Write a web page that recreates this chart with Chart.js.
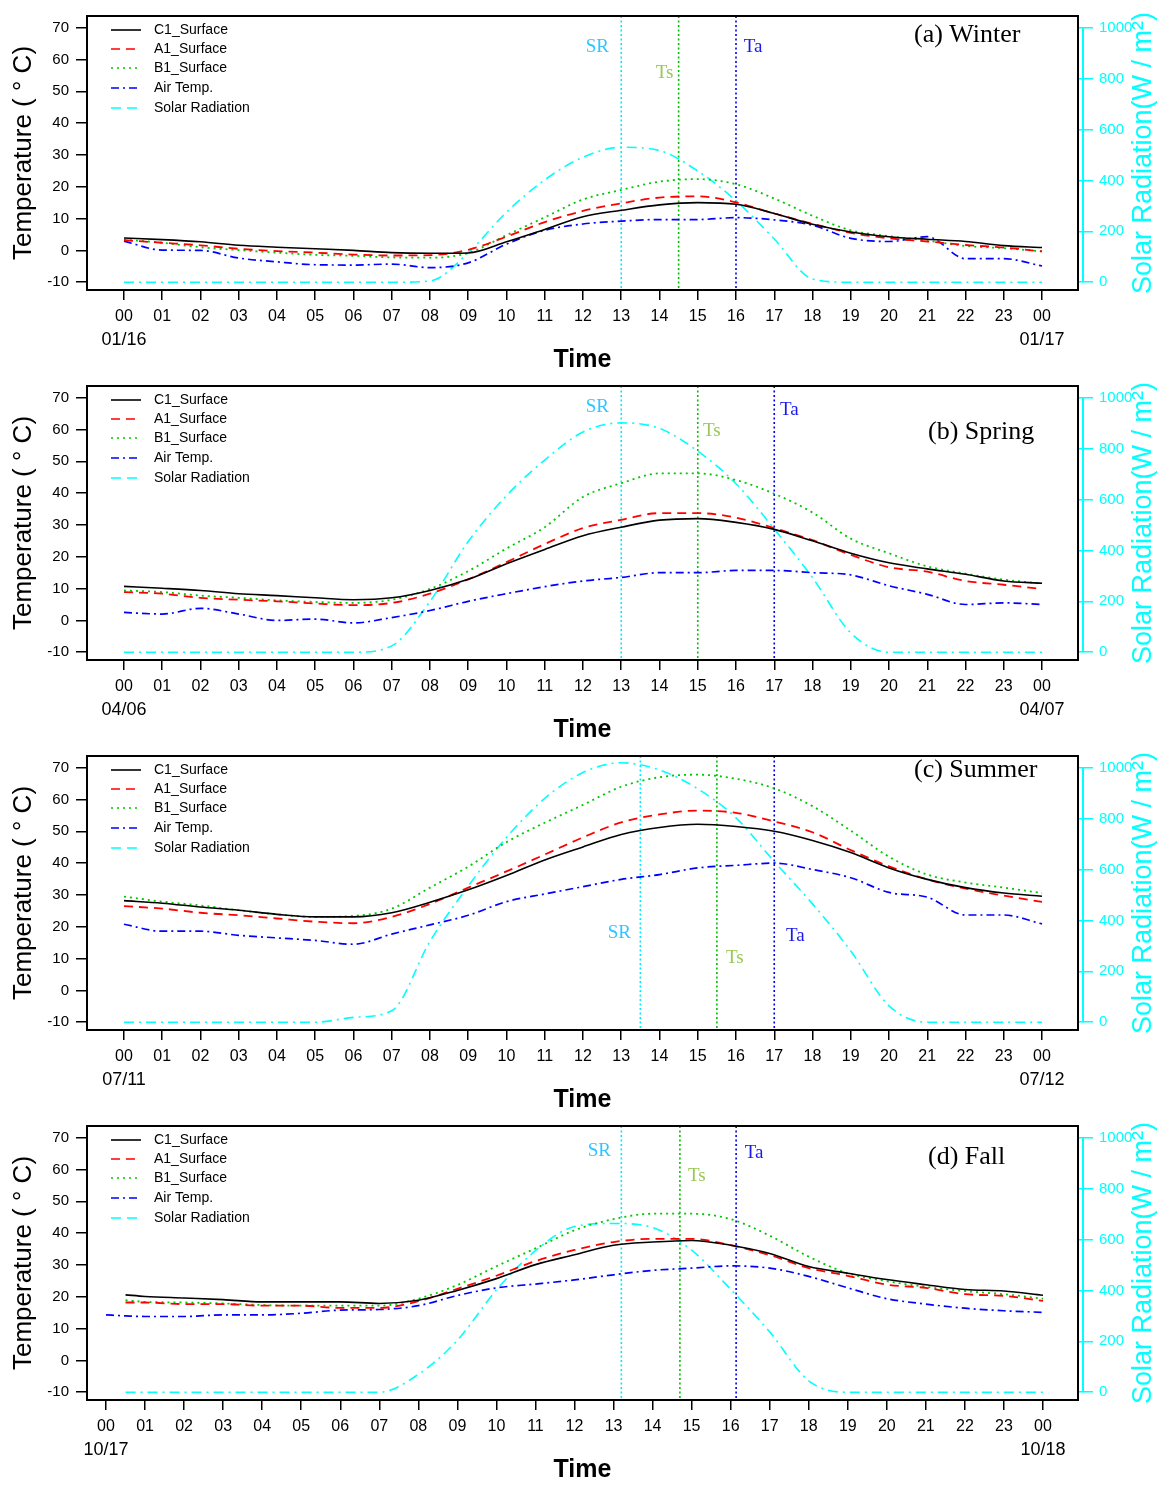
<!DOCTYPE html>
<html>
<head>
<meta charset="utf-8">
<script src="https://cdn.jsdelivr.net/npm/chart.js@4.4.0/dist/chart.umd.min.js"></script>
<style>
  body { margin: 0; background: #fff; }
  canvas { display: block; }
</style>
</head>
<body>
<canvas id="winter" width="1168" height="370"></canvas>
<canvas id="spring" width="1168" height="370"></canvas>
<canvas id="summer" width="1168" height="370"></canvas>
<canvas id="fall" width="1168" height="370"></canvas>
<script>
// ---- data ----
const hours = [0,1,2,3,4,5,6,7,8,9,10,11,12,13,14,15,16,17,18,19,20,21,22,23,24];
const fallHours = [0,0.5,1,2,3,4,5,6,7,8,9,10,11,12,13,14,15,16,17,18,19,20,21,22,23,24];
const hourTicks = [0,1,2,3,4,5,6,7,8,9,10,11,12,13,14,15,16,17,18,19,20,21,22,23,24];
const tempTicks = [-10, 0, 10, 20, 30, 40, 50, 60, 70];
const solarTicks = [0, 200, 400, 600, 800, 1000];
const seriesNames = ['C1_Surface', 'A1_Surface', 'B1_Surface', 'Air Temp.', 'Solar Radiation'];
const markerNames = ['SR', 'Ts', 'Ta'];

// winter 01/16
const winterC1 = [3.9, 3.4, 2.7, 1.6, 1.0, 0.5, 0, -0.7, -0.9, -0.8, 2.7, 6.6, 10.6, 12.6, 14.3, 15.0, 14.5, 11.6, 8.2, 5.8, 4.3, 3.5, 2.8, 1.5, 0.9];
const winterA1 = [3.2, 2.4, 1.6, 0.5, -0.2, -0.7, -1.3, -1.6, -1.5, 0.2, 4.3, 8.9, 12.4, 14.8, 16.6, 17.0, 15.1, 11.6, 8.4, 5.5, 3.8, 2.8, 1.7, 0.9, -0.3];
const winterB1 = [3.4, 2.4, 1.0, 0.1, -0.7, -1.4, -1.7, -2.2, -2.3, -0.8, 4.8, 10.4, 16.0, 19.0, 21.6, 22.4, 20.8, 16.3, 10.9, 6.3, 4.5, 3.1, 1.4, 0.7, -0.3];
const winterAir = [2.9, 0.1, 0, -2.4, -3.6, -4.5, -4.6, -4.3, -5.4, -3.9, 2.0, 6.3, 8.3, 9.2, 9.7, 9.7, 10.3, 9.6, 7.9, 3.8, 2.8, 4.3, -2.6, -2.6, -4.9];
const winterSolar = [0, 0, 0, 0, 0, 0, 0, 0, 5, 116, 275, 402, 491, 530, 517, 437, 320, 170, 13, 0, 0, 0, 0, 0, 0];
const winterMarks = [13, 14.5, 16];

// spring 04/06
const springC1 = [10.7, 10.1, 9.4, 8.4, 7.8, 7.1, 6.5, 7.1, 9.4, 12.9, 17.8, 22.3, 26.6, 29.3, 31.5, 32.0, 30.8, 28.6, 25.0, 21.1, 18.1, 16.2, 14.5, 12.4, 11.7];
const springA1 = [8.9, 8.4, 7.1, 6.5, 6.0, 5.3, 4.8, 5.5, 8.4, 12.9, 18.3, 24.0, 29.0, 31.6, 33.7, 33.7, 32.3, 29.0, 25.2, 20.6, 16.7, 15.3, 12.4, 11.2, 9.9];
const springB1 = [9.4, 8.9, 7.8, 7.1, 6.3, 5.8, 5.5, 6.5, 9.9, 15.5, 22.6, 29.3, 38.8, 43.1, 46.2, 46.2, 44.1, 39.8, 33.9, 25.7, 21.1, 17.0, 14.7, 12.8, 11.6];
const springAir = [2.5, 2.0, 3.8, 2.0, 0, 0.4, -0.8, 0.9, 3.1, 6.0, 8.4, 10.6, 12.4, 13.5, 15.0, 15.0, 15.7, 15.7, 15.0, 14.3, 10.9, 8.2, 5.0, 5.5, 5.0];
const springSolar = [0, 0, 0, 0, 0, 0, 0, 25, 200, 435, 615, 755, 865, 901, 879, 790, 662, 484, 293, 76, 0, 0, 0, 0, 0];
const springMarks = [13, 15, 17];

// summer 07/11
const summerC1 = [28.2, 27.4, 26.2, 25.2, 23.9, 23.1, 23.1, 24.4, 27.7, 31.6, 36.1, 41.0, 45.1, 49.0, 51.2, 52.2, 51.5, 50.0, 47.1, 43.3, 38.5, 34.9, 32.3, 30.6, 29.6];
const summerA1 = [26.5, 25.7, 24.4, 23.6, 22.6, 21.6, 21.1, 23.1, 27.2, 32.3, 37.4, 42.7, 48.1, 52.8, 55.3, 56.5, 55.8, 53.1, 49.7, 44.1, 39.0, 34.9, 32.0, 29.8, 27.8];
const summerB1 = [29.5, 27.9, 26.7, 25.2, 23.9, 23.1, 23.4, 25.7, 32.3, 38.9, 46.6, 52.7, 58.3, 64.0, 67.0, 67.8, 66.5, 63.5, 57.9, 50.2, 42.0, 36.4, 33.9, 32.3, 30.6];
const summerAir = [20.8, 18.6, 18.6, 17.3, 16.5, 15.7, 14.5, 17.7, 20.6, 23.6, 27.9, 30.3, 32.6, 34.9, 36.4, 38.5, 39.3, 40.0, 38.0, 35.4, 30.8, 29.3, 23.7, 23.7, 20.9];
const summerSolar = [0, 0, 0, 0, 0, 0, 19, 45, 318, 535, 726, 879, 981, 1019, 991, 917, 803, 631, 465, 280, 64, 0, 0, 0, 0];
const summerMarks = [13.5, 15.5, 17];

// fall 10/17 (surface and solar logs start at 00:30)
const fallC1 = [null, 20.6, 20.1, 19.6, 19.1, 18.4, 18.4, 18.4, 17.9, 18.9, 22.0, 25.7, 30.1, 33.2, 36.2, 37.2, 37.7, 36.2, 33.6, 29.5, 27.4, 25.4, 23.8, 22.3, 21.8, 20.5];
const fallA1 = [null, 18.2, 18.2, 17.7, 17.7, 17.2, 17.2, 16.5, 16.5, 18.6, 22.5, 26.6, 31.2, 34.7, 37.2, 38.2, 38.2, 36.2, 33.1, 29.0, 26.6, 23.8, 22.8, 20.8, 20.3, 18.7];
const fallB1 = [null, 18.9, 18.4, 18.2, 17.9, 17.4, 17.2, 17.2, 17.2, 19.4, 23.7, 29.6, 35.2, 40.9, 44.4, 46.1, 46.1, 44.4, 39.2, 32.6, 27.4, 24.9, 23.1, 21.8, 20.8, 19.4];
const fallAir = [14.3, 14.0, 13.8, 13.8, 14.3, 14.3, 14.8, 15.8, 16.0, 17.2, 20.4, 22.8, 24.0, 25.3, 26.9, 28.3, 29.0, 29.7, 29.0, 26.4, 22.8, 19.4, 17.7, 16.4, 15.6, 15.1];
const fallSolar = [null, 0, 0, 0, 0, 0, 0, 0, 0, 70, 204, 402, 556, 651, 663, 647, 558, 404, 237, 45, 0, 0, 0, 0, 0, 0];
const fallMarks = [13.2, 14.7, 16.14];

// ---- styles ----
const SANS = "Arial, 'Liberation Sans', sans-serif";
const SERIF = "'Times New Roman', 'Liberation Serif', serif";
const CYAN = '#00ffff';
const seriesStyle = [
  { color: '#000000', dash: [], width: 1.6 },
  { color: '#ff0000', dash: [9, 6], width: 1.8 },
  { color: '#00c800', dash: [2, 4], width: 1.8 },
  { color: '#0000ff', dash: [8, 4, 2, 4], width: 1.7 },
  { color: CYAN, dash: [10, 5, 2, 5], width: 1.6, legendDash: [10, 6] }
];
const markerStyle = [
  { line: '#00e8ff', text: '#33c4ff' },
  { line: '#00c000', text: '#99c855' },
  { line: '#0000ee', text: '#1a1aee' }
];

// y range chosen so that -10..70 (0..1000 W/m2) fills the ticked span of the frame
const T_MIN = -12.443, T_MAX = 73.664;
const toSolar = t => (t + 10) * 12.5;

const panels = [
  { id: 'winter', title: '(a) Winter', titleAt: [914, 35], dates: ['01/16', '01/17'], hrs: hours,
    series: [winterC1, winterA1, winterB1, winterAir, winterSolar], marks: winterMarks,
    markLabels: [[-24, 47], [-14, 73], [17, 47]], xRange: [-0.967, 24.941] },
  { id: 'spring', title: '(b) Spring', titleAt: [928, 62], dates: ['04/06', '04/07'], hrs: hours,
    series: [springC1, springA1, springB1, springAir, springSolar], marks: springMarks,
    markLabels: [[-24, 37], [14, 61], [15, 40]], xRange: [-0.967, 24.941] },
  { id: 'summer', title: '(c) Summer', titleAt: [914, 30], dates: ['07/11', '07/12'], hrs: hours,
    series: [summerC1, summerA1, summerB1, summerAir, summerSolar], marks: summerMarks,
    markLabels: [[-21, 193], [18, 218], [21, 196]], xRange: [-0.967, 24.941] },
  { id: 'fall', title: '(d) Fall', titleAt: [928, 47], dates: ['10/17', '10/18'], hrs: fallHours,
    series: [fallC1, fallA1, fallB1, fallAir, fallSolar], marks: fallMarks,
    markLabels: [[-22, 41], [17, 66], [18, 43]], xRange: [-0.487, 24.897] }
];

// frame, legend, marker labels, dates, panel title, right-hand axis title
const decor = {
  id: 'decor',
  afterDraw(chart, args, opts) {
    const p = opts.panel;
    const { ctx, chartArea: a, scales } = chart;
    ctx.save();
    ctx.strokeStyle = '#000';
    ctx.lineWidth = 2;
    ctx.setLineDash([]);
    ctx.strokeRect(a.left, a.top, a.right - a.left, a.bottom - a.top);

    // cyan right axis line
    ctx.strokeStyle = CYAN;
    ctx.lineWidth = 2;
    ctx.beginPath();
    ctx.moveTo(a.right + 5, scales.y2.getPixelForValue(1000));
    ctx.lineTo(a.right + 5, scales.y2.getPixelForValue(0));
    ctx.stroke();

    // legend
    const rows = [30, 49, 68, 88, 108];
    ctx.font = '14px ' + SANS;
    ctx.textBaseline = 'middle';
    ctx.textAlign = 'left';
    seriesNames.forEach((name, i) => {
      const s = seriesStyle[i];
      ctx.strokeStyle = s.color;
      ctx.lineWidth = 1.6;
      ctx.setLineDash(s.legendDash || s.dash);
      ctx.beginPath();
      ctx.moveTo(111, rows[i]);
      ctx.lineTo(141, rows[i]);
      ctx.stroke();
      ctx.fillStyle = '#000';
      ctx.fillText(name, 154, rows[i]);
    });
    ctx.setLineDash([]);

    // dates under the first and last hour ticks
    ctx.font = '18px ' + SANS;
    ctx.textAlign = 'center';
    ctx.fillStyle = '#000';
    ctx.fillText(p.dates[0], scales.x.getPixelForValue(0), 340);
    ctx.fillText(p.dates[1], scales.x.getPixelForValue(24), 340);

    // marker labels
    ctx.font = '19px ' + SERIF;
    p.marks.forEach((t, i) => {
      const x = scales.x.getPixelForValue(t) + p.markLabels[i][0];
      ctx.fillStyle = markerStyle[i].text;
      ctx.fillText(markerNames[i], x, p.markLabels[i][1]);
    });

    // panel title
    ctx.font = '26px ' + SERIF;
    ctx.textAlign = 'left';
    ctx.fillStyle = '#000';
    ctx.fillText(p.title, p.titleAt[0], p.titleAt[1]);

    // right axis title, reading bottom to top
    ctx.save();
    ctx.translate(1144, (a.top + a.bottom) / 2);
    ctx.rotate(-Math.PI / 2);
    ctx.font = '27px ' + SANS;
    ctx.textAlign = 'center';
    ctx.fillStyle = CYAN;
    ctx.fillText('Solar Radiation(W / m\u00B2)', 0, 0);
    ctx.restore();
    ctx.restore();
  }
};

function makePanel(p) {
  const ctx = document.getElementById(p.id).getContext('2d');
  const datasets = p.series.map((vals, i) => ({
    label: seriesNames[i],
    data: p.hrs.map((h, k) => ({ x: h, y: vals[k] })),
    borderColor: seriesStyle[i].color,
    borderDash: seriesStyle[i].dash,
    borderWidth: seriesStyle[i].width,
    cubicInterpolationMode: 'monotone',
    yAxisID: i === 4 ? 'y2' : 'y'
  }));
  p.marks.forEach((t, i) => {
    datasets.push({
      label: markerNames[i],
      data: [{ x: t, y: T_MIN - 5 }, { x: t, y: T_MAX + 5 }],
      borderColor: markerStyle[i].line,
      borderDash: [2, 2.5],
      borderWidth: 1.6,
      yAxisID: 'y'
    });
  });

  new Chart(ctx, {
    type: 'line',
    data: { datasets },
    plugins: [decor],
    options: {
      responsive: false,
      animation: false,
      devicePixelRatio: 1,
      layout: { padding: { top: 8, left: 0, right: 0, bottom: 0 } },
      elements: { point: { radius: 0 }, line: { fill: false } },
      plugins: {
        legend: { display: false },
        tooltip: { enabled: false },
        decor: { panel: p }
      },
      scales: {
        x: {
          type: 'linear',
          min: p.xRange[0],
          max: p.xRange[1],
          afterBuildTicks: s => { s.ticks = hourTicks.map(v => ({ value: v })); },
          afterFit: s => { s.height = 80; },
          border: { display: false },
          grid: { drawOnChartArea: false, tickLength: 10, color: '#000', lineWidth: 1.5 },
          ticks: {
            autoSkip: false,
            maxRotation: 0,
            padding: 7,
            color: '#000',
            font: { family: SANS, size: 16 },
            callback: v => String(v % 24).padStart(2, '0')
          },
          title: {
            display: true, text: 'Time', color: '#000', padding: 0,
            font: { family: SANS, size: 25, weight: 'bold', lineHeight: 0.8 }
          }
        },
        y: {
          position: 'left',
          min: T_MIN,
          max: T_MAX,
          afterBuildTicks: s => { s.ticks = tempTicks.map(v => ({ value: v })); },
          afterFit: s => { s.width = 87; },
          border: { display: false },
          grid: { drawOnChartArea: false, tickLength: 11, color: '#000', lineWidth: 1.5 },
          ticks: { padding: 7, color: '#000', font: { family: SANS, size: 15 } },
          title: {
            display: true, text: 'Temperature ( \u00B0 C)', color: '#000',
            padding: { top: 8, bottom: 0 },
            font: { family: SANS, size: 26 }
          }
        },
        y2: {
          position: 'right',
          min: toSolar(T_MIN),
          max: toSolar(T_MAX),
          afterBuildTicks: s => { s.ticks = solarTicks.map(v => ({ value: v })); },
          afterFit: s => { s.width = 90; },
          border: { display: false },
          grid: { drawOnChartArea: false, tickLength: 15, color: CYAN, lineWidth: 1.5 },
          ticks: { padding: 6, color: CYAN, font: { family: SANS, size: 15 }, callback: v => String(v) }
        }
      }
    }
  });
}

panels.forEach(makePanel);
</script>
</body>
</html>
